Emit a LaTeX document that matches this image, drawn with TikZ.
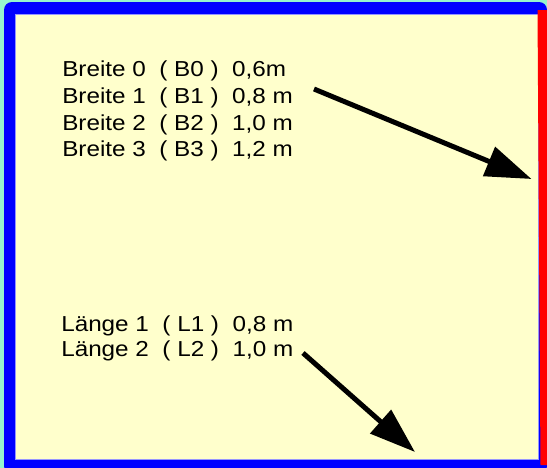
\documentclass[tikz,border=0pt]{standalone}
\usepackage{fontspec}
\setmainfont{Liberation Sans}[FakeStretch=1.12]
\usepackage{tikz}
\usetikzlibrary{arrows.meta}

\begin{document}
\begin{tikzpicture}[x=0.75pt,y=0.75pt,yscale=-1,xscale=1,
  lbl/.style={anchor=base west,inner sep=0.75pt,font=\fontsize{16.25}{20}\selectfont},
  bigarrow/.style={line width=3.75pt,-{Triangle[length=34.5pt,width=23pt]}}]
\useasboundingbox (0,0) rectangle (547,468);
%background and frame
\fill [color={rgb, 255:red, 150; green, 245; blue, 205 }] (0,0) rectangle (547,468);
\fill [color={rgb, 255:red, 0; green, 0; blue, 255 }, rounded corners=6] (4,2) rectangle (547,474);
\filldraw [fill={rgb, 255:red, 255; green, 255; blue, 204 }, draw={rgb, 255:red, 150; green, 150; blue, 255 }, line width=0.75pt] (15,14) rectangle (538,459);
\fill [color={rgb, 255:red, 255; green, 0; blue, 0 }] (537.5,10) -- (547,10) -- (547,465) -- (540.5,465) -- cycle;
%widths
\draw (61,76.7) node [lbl] (b0) {Breite 0\ \ ( B0 )\ \ 0,6m};
\draw (61,103.3) node [lbl] (b1) {Breite 1\ \ ( B1 )\ \ 0,8 m};
\draw (61,130) node [lbl] (b2) {Breite 2\ \ ( B2 )\ \ 1,0 m};
\draw (61,156.7) node [lbl] (b3) {Breite 3\ \ ( B3 )\ \ 1,2 m};
%lengths
\draw (60,331.7) node [lbl] (l1) {Länge 1\ \ ( L1 )\ \ 0,8 m};
\draw (60,356.7) node [lbl] (l2) {Länge 2\ \ ( L2 )\ \ 1,0 m};
%arrows
\coordinate (bstart) at (314,89);
\coordinate (bend) at (531.5,179);
\coordinate (lstart) at (303,353);
\coordinate (lend) at (415,452);
\draw [bigarrow] (bstart) -- (bend);
\draw [bigarrow] (lstart) -- (lend);
\end{tikzpicture}
\end{document}
